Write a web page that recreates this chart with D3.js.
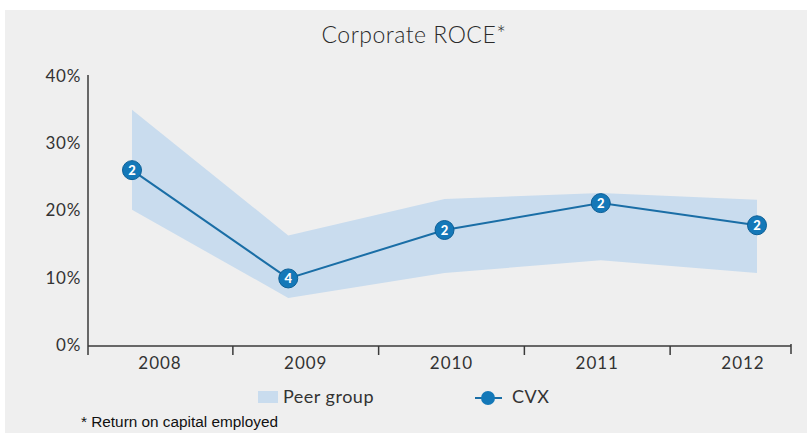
<!DOCTYPE html>
<html>
<head>
<meta charset="utf-8">
<script src="https://cdn.jsdelivr.net/npm/d3@7"></script>
<style>
  html, body { margin: 0; padding: 0; background: #ffffff; }
  svg { display: block; }
  text { font-family: "Lato", "Noto Sans", sans-serif; fill: #333333; }
</style>
</head>
<body>
<svg id="chart" width="807" height="433"></svg>
<script>
// Chart data
const years = ["2008", "2009", "2010", "2011", "2012"];
const cvxRoce = [26.0, 9.9, 17.1, 21.1, 17.8];     // CVX return on capital employed, %
const cvxRank = [2, 4, 2, 2, 2];                    // CVX rank within the peer group
const peerHigh = [35.0, 16.3, 21.7, 22.6, 21.6];   // top of peer-group range, %
const peerLow = [20.1, 7.0, 10.7, 12.6, 10.7];     // bottom of peer-group range, %
const yTicks = [0, 10, 20, 30, 40];

const svg = d3.select("#chart");
const W = 807, H = 433;

// Panel background
svg.append("rect").attr("x", 5).attr("y", 10).attr("width", W - 5).attr("height", H - 10)
  .attr("fill", "#efefef");

// Scales
const y = d3.scaleLinear().domain([0, 40]).range([345, 76]);
const xLabel = d3.scalePoint().domain(years).range([160, 743]);
const xData = d3.scalePoint().domain(years).range([132, 757]);
const axisLeft = 88, axisRight = 791, axisY = 346;

// Title
svg.append("text").attr("x", 414).attr("y", 43).attr("text-anchor", "middle")
  .attr("font-size", 23).attr("font-weight", 300).attr("letter-spacing", 0.5)
  .style("fill", "#2a2a2a")
  .text("Corporate ROCE*");

// Peer-group range band
const rows = years.map((yr, i) => ({ yr, hi: peerHigh[i], lo: peerLow[i], v: cvxRoce[i], rank: cvxRank[i] }));
const area = d3.area().x(d => xData(d.yr)).y0(d => y(d.lo)).y1(d => y(d.hi));
svg.append("path").datum(rows).attr("d", area).attr("fill", "#c9dcee");

// Y axis: line and percentage labels
svg.append("line").attr("x1", axisLeft).attr("x2", axisLeft).attr("y1", 75).attr("y2", 355)
  .attr("stroke", "#3a3a3a").attr("stroke-width", 1.5);
svg.selectAll(".ylab").data(yTicks).join("text")
  .attr("class", "ylab")
  .attr("x", 81).attr("y", d => y(d)).attr("dy", "0.35em")
  .attr("text-anchor", "end").attr("font-size", 17).attr("letter-spacing", 0.7)
  .text(d => d + "%");

// X axis: baseline, separator ticks between years, labels
svg.append("line").attr("x1", axisLeft).attr("x2", axisRight).attr("y1", axisY).attr("y2", axisY)
  .attr("stroke", "#3a3a3a").attr("stroke-width", 1.5);
const seps = years.slice(1).map((yr, i) => (xLabel(years[i]) + xLabel(yr)) / 2);
svg.selectAll(".sep").data(seps).join("line")
  .attr("class", "sep")
  .attr("x1", d => d).attr("x2", d => d).attr("y1", axisY).attr("y2", axisY + 9)
  .attr("stroke", "#3a3a3a").attr("stroke-width", 1.5);
svg.append("line").attr("x1", axisRight).attr("x2", axisRight).attr("y1", axisY - 2).attr("y2", axisY + 8)
  .attr("stroke", "#3a3a3a").attr("stroke-width", 1.5);
svg.selectAll(".xlab").data(years).join("text")
  .attr("class", "xlab")
  .attr("x", d => xLabel(d)).attr("y", 369)
  .attr("text-anchor", "middle").attr("font-size", 17).attr("letter-spacing", 1)
  .text(d => d);

// CVX line
const line = d3.line().x(d => xData(d.yr)).y(d => y(d.v));
svg.append("path").datum(rows).attr("d", line)
  .attr("fill", "none").attr("stroke", "#1a6ea6").attr("stroke-width", 2);

// CVX markers with rank numbers
const marks = svg.selectAll(".mark").data(rows).join("g").attr("class", "mark")
  .attr("transform", d => `translate(${xData(d.yr)},${y(d.v)})`);
marks.append("circle").attr("r", 9.5).attr("fill", "#1478b8")
  .attr("stroke", "#0d5f96").attr("stroke-width", 1);
marks.append("text").attr("text-anchor", "middle").attr("dy", "0.36em")
  .attr("font-size", 13).attr("font-weight", 900).style("fill", "#ffffff")
  .text(d => d.rank);

// Legend
svg.append("rect").attr("x", 258).attr("y", 391).attr("width", 20).attr("height", 12)
  .attr("fill", "#c9dcee");
svg.append("text").attr("x", 283).attr("y", 403).attr("font-size", 18).attr("letter-spacing", 0.5)
  .text("Peer group");
svg.append("line").attr("x1", 475).attr("x2", 502).attr("y1", 398).attr("y2", 398)
  .attr("stroke", "#1a6ea6").attr("stroke-width", 2);
svg.append("circle").attr("cx", 488).attr("cy", 398).attr("r", 7).attr("fill", "#1478b8");
svg.append("text").attr("x", 512).attr("y", 403).attr("font-size", 18).attr("letter-spacing", 0.5)
  .text("CVX");

// Footnote
svg.append("text").attr("x", 81).attr("y", 427)
  .style("font-family", "'Liberation Sans', Arial, sans-serif")
  .attr("font-size", 14).attr("textLength", 197).attr("lengthAdjust", "spacingAndGlyphs")
  .style("fill", "#111111")
  .text("* Return on capital employed");
</script>
</body>
</html>
